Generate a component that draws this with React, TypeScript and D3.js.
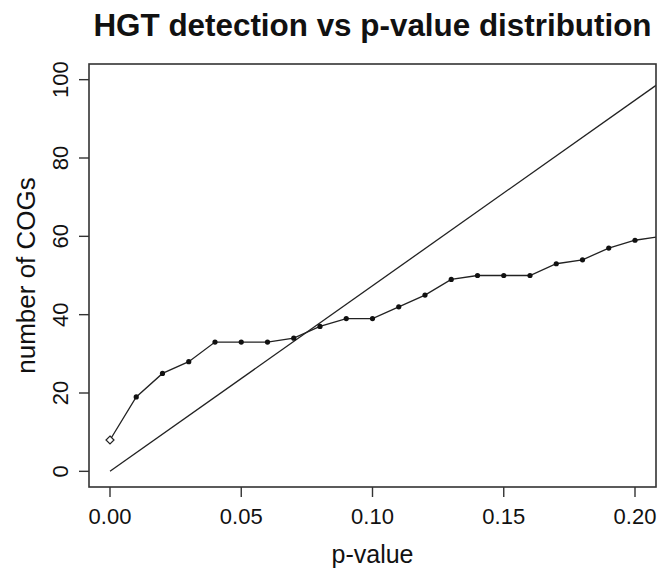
import React from "react";
import * as d3 from "d3";

const pValues = [0, 0.01, 0.02, 0.03, 0.04, 0.05, 0.06, 0.07, 0.08, 0.09, 0.1, 0.11, 0.12, 0.13, 0.14, 0.15, 0.16, 0.17, 0.18, 0.19, 0.2, 0.21];
const cogCounts = [8, 19, 25, 28, 33, 33, 33, 34, 37, 39, 39, 42, 45, 49, 50, 50, 50, 53, 54, 57, 59, 60];
const expectedP = [0, 0.21];
const expectedCounts = [0, 99.5];
const xTicks = [0, 0.05, 0.1, 0.15, 0.2];
const yTicks = [0, 20, 40, 60, 80, 100];

const W = 660, H = 568;
const L = 89, R = 656, T = 64, B = 487;
const FONT = "Liberation Sans, Arial, Helvetica, sans-serif";

export default function App() {
  const x = d3.scaleLinear().domain([-0.008, 0.208]).range([L, R]);
  const y = d3.scaleLinear().domain([-4, 104]).range([B, T]);
  const line = d3.line<[number, number]>().x(d => x(d[0])).y(d => y(d[1]));
  const obs: [number, number][] = pValues.map((p, i) => [p, cogCounts[i]]);
  const exp: [number, number][] = expectedP.map((p, i) => [p, expectedCounts[i]]);
  const ink = "#222";
  return (
    <svg width={W} height={H} style={{ position: "absolute", left: 0, top: 0, background: "#fff" }}>
      <rect x={0} y={0} width={W} height={H} fill="#fff" />
      <defs>
        <clipPath id="plot">
          <rect x={L} y={T} width={R - L} height={B - T} />
        </clipPath>
      </defs>
      <text x={(L + R) / 2} y={36} textAnchor="middle" fontFamily={FONT} fontWeight="bold" fontSize={31.4} fill="#111">
        HGT detection vs p-value distribution
      </text>
      <g clipPath="url(#plot)">
        <path d={line(exp) || ""} fill="none" stroke={ink} strokeWidth={1.3} />
        <path d={line(obs) || ""} fill="none" stroke={ink} strokeWidth={1.3} />
        {obs.slice(1).map((d, i) => (
          <circle key={i} cx={x(d[0])} cy={y(d[1])} r={2.6} fill="#111" />
        ))}
        <path
          d={`M${x(obs[0][0])},${y(obs[0][1]) - 4}L${x(obs[0][0]) + 4},${y(obs[0][1])}L${x(obs[0][0])},${y(obs[0][1]) + 4}L${x(obs[0][0]) - 4},${y(obs[0][1])}Z`}
          fill="#fff"
          stroke={ink}
          strokeWidth={1.2}
        />
      </g>
      <rect x={L} y={T} width={R - L} height={B - T} fill="none" stroke="#333" strokeWidth={1.6} />
      {xTicks.map(t => (
        <g key={t}>
          <line x1={x(t)} x2={x(t)} y1={B} y2={B + 10} stroke="#333" strokeWidth={1.4} />
          <text x={x(t)} y={524} textAnchor="middle" fontFamily={FONT} fontSize={22} fill="#111">
            {t.toFixed(2)}
          </text>
        </g>
      ))}
      {yTicks.map(t => (
        <g key={t}>
          <line x1={L - 10} x2={L} y1={y(t)} y2={y(t)} stroke="#333" strokeWidth={1.4} />
          <text transform={`translate(68,${y(t)}) rotate(-90)`} textAnchor="middle" fontFamily={FONT} fontSize={22} fill="#111">
            {t}
          </text>
        </g>
      ))}
      <text x={(L + R) / 2} y={563} textAnchor="middle" fontFamily={FONT} fontSize={25} fill="#111">
        p-value
      </text>
      <text transform={`translate(35,${(T + B) / 2}) rotate(-90)`} textAnchor="middle" fontFamily={FONT} fontSize={26} fill="#111">
        number of COGs
      </text>
    </svg>
  );
}
